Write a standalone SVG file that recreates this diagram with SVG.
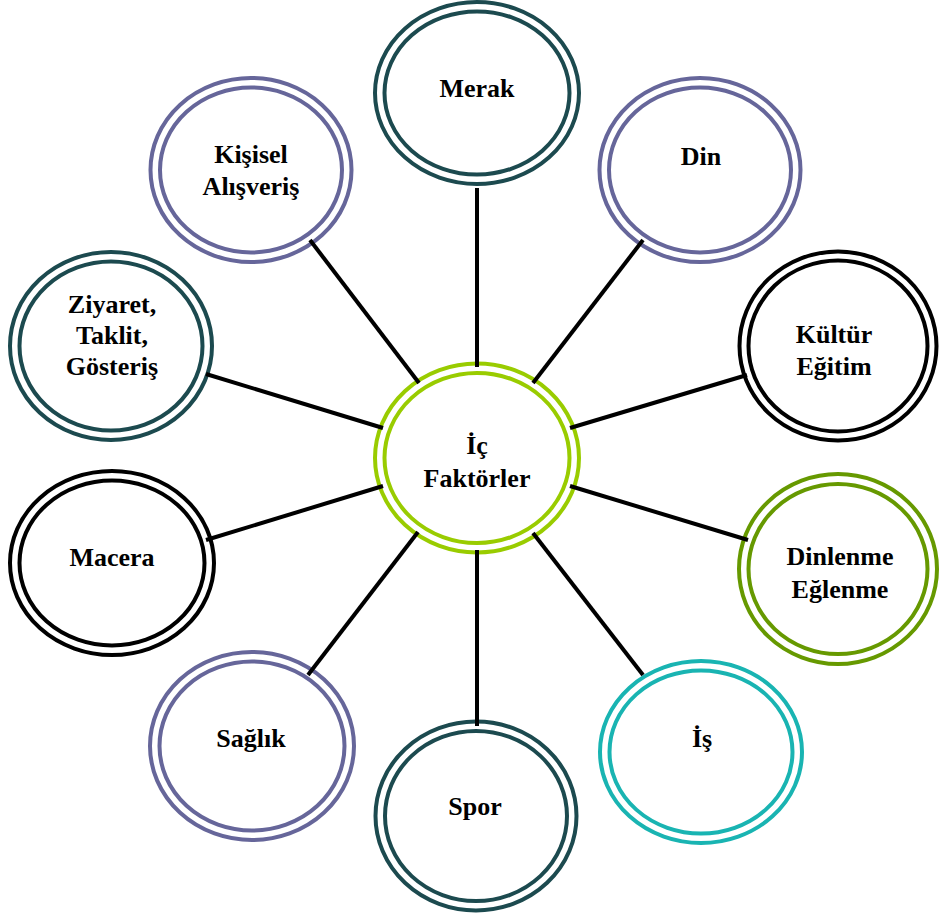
<svg xmlns="http://www.w3.org/2000/svg" width="939" height="920" viewBox="0 0 939 920">
<style>
.r{fill:none;stroke-width:4}
.t{font-family:"Liberation Serif","Times New Roman",serif;font-weight:bold;font-size:26px;fill:#000;text-anchor:middle}
.teal{stroke:#1c4a4f}
.pur{stroke:#66669a}
.blk{stroke:#000}
.olv{stroke:#669900}
.cyn{stroke:#19b4b2}
.lim{stroke:#99cc00}
#connectors line{stroke:#000;stroke-width:4}
</style>
<rect width="939" height="920" fill="#fff"/>
<g id="center">
<ellipse class="r lim" cx="477" cy="458" rx="102" ry="94.5"/>
<ellipse class="r lim" cx="477" cy="458" rx="92.5" ry="85"/>
<text class="t" x="477" y="454">İç</text>
<text class="t" x="477" y="487">Faktörler</text>
</g>
<g id="merak">
<ellipse class="r teal" cx="477" cy="93" rx="102" ry="91"/>
<ellipse class="r teal" cx="477" cy="93" rx="92.5" ry="81.5"/>
<text class="t" x="477" y="97">Merak</text>
</g>
<g id="din">
<ellipse class="r pur" cx="700" cy="170" rx="100.5" ry="92"/>
<ellipse class="r pur" cx="700" cy="170" rx="91" ry="82.5"/>
<text class="t" x="701" y="165">Din</text>
</g>
<g id="kultur">
<ellipse class="r blk" cx="838" cy="346" rx="98.5" ry="94.5"/>
<ellipse class="r blk" cx="838" cy="346" rx="89.5" ry="85.5"/>
<text class="t" x="834" y="343">Kültür</text>
<text class="t" x="834" y="375">Eğitim</text>
</g>
<g id="dinlenme">
<ellipse class="r olv" cx="838" cy="569" rx="99" ry="95"/>
<ellipse class="r olv" cx="838" cy="569" rx="89.5" ry="85"/>
<text class="t" x="840" y="565">Dinlenme</text>
<text class="t" x="840" y="598">Eğlenme</text>
</g>
<g id="is">
<ellipse class="r cyn" cx="701" cy="752" rx="101" ry="91"/>
<ellipse class="r cyn" cx="701" cy="752" rx="91.5" ry="81.5"/>
<text class="t" x="702" y="747">İş</text>
</g>
<g id="spor">
<ellipse class="r teal" cx="476" cy="816" rx="100.5" ry="94.5"/>
<ellipse class="r teal" cx="476" cy="816" rx="91" ry="85"/>
<text class="t" x="475" y="815">Spor</text>
</g>
<g id="saglik">
<ellipse class="r pur" cx="252" cy="746" rx="102" ry="94"/>
<ellipse class="r pur" cx="252" cy="746" rx="92.5" ry="84.5"/>
<text class="t" x="251" y="747">Sağlık</text>
</g>
<g id="macera">
<ellipse class="r blk" cx="112" cy="563" rx="102" ry="92"/>
<ellipse class="r blk" cx="112" cy="563" rx="92.5" ry="82.5"/>
<text class="t" x="112" y="566">Macera</text>
</g>
<g id="ziyaret">
<ellipse class="r teal" cx="111" cy="346" rx="101" ry="94"/>
<ellipse class="r teal" cx="111" cy="346" rx="91.5" ry="84.5"/>
<text class="t" x="112" y="313">Ziyaret,</text>
<text class="t" x="112" y="344">Taklit,</text>
<text class="t" x="112" y="375">Gösteriş</text>
</g>
<g id="kisisel">
<ellipse class="r pur" cx="251" cy="170" rx="100.5" ry="92"/>
<ellipse class="r pur" cx="251" cy="170" rx="91" ry="82.5"/>
<text class="t" x="251" y="163">Kişisel</text>
<text class="t" x="251" y="195">Alışveriş</text>
</g>
<g id="connectors">
<line x1="477" y1="188" x2="477" y2="367"/>
<line x1="643" y1="240" x2="533" y2="383"/>
<line x1="747" y1="375" x2="570" y2="428"/>
<line x1="748" y1="540" x2="570" y2="486"/>
<line x1="643" y1="675" x2="533" y2="533"/>
<line x1="477" y1="726" x2="477" y2="550"/>
<line x1="308" y1="675" x2="418" y2="532"/>
<line x1="206" y1="540" x2="383" y2="486"/>
<line x1="206" y1="374" x2="383" y2="428"/>
<line x1="310" y1="240" x2="419" y2="383"/>
</g>
</svg>
